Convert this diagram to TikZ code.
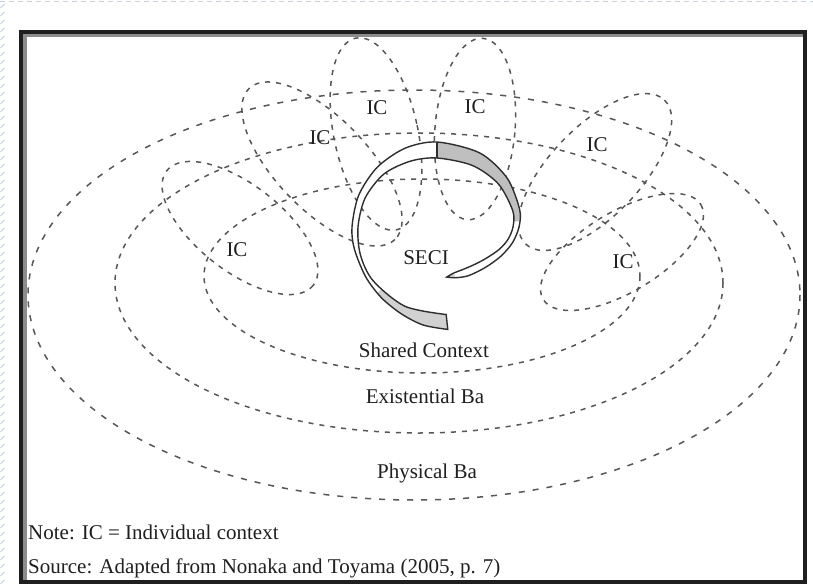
\documentclass[tikz,border=0pt]{standalone}
\usepackage{fontspec}
\setmainfont{Liberation Serif}
\begin{document}
\begin{tikzpicture}[x=1pt,y=-1pt,
  dsh/.style={draw=black!66, line width=1.5pt, dash pattern=on 5pt off 6pt},
  bigdsh/.style={dsh, dash pattern=on 6pt off 8pt},
  lbl/.style={font=\fontsize{21}{25}\selectfont, text=black!88, inner sep=0pt},
  band/.style={draw=black!82, line width=1.4pt},
  bgpat/.style={draw={rgb,255:red,200;green,207;blue,226}, line width=1pt}]
\useasboundingbox (0,0) rectangle (813,588);
\fill[white] (0,0) rectangle (813,588);
% slide background texture
\draw[bgpat, dash pattern=on 5pt off 4pt] (0,2) -- (813,2);
\foreach \yy in {4,12,...,580} \draw[bgpat] (0.5,\yy+4) -- (4.5,\yy);
% frame
\draw[black!88, line width=4pt] (21,32) rectangle (805,582);
\draw[black!45, line width=3pt] (25,35.5) -- (803,35.5);
\draw[black!45, line width=3.5pt] (25,34) -- (25,580);

% Ba ellipses
\draw[bigdsh] (414,295) ellipse [x radius=386, y radius=205];
\draw[dsh] (419,283) ellipse [x radius=304, y radius=150];
\draw[dsh] (422,276) ellipse [x radius=218, y radius=97];

% individual contexts
\draw[dsh, rotate around={-38:(240,228)}] (240,228) ellipse [x radius=93, y radius=43];
\draw[dsh, rotate around={-46:(322,164)}] (322,164) ellipse [x radius=105, y radius=46];
\draw[dsh, rotate around={12:(376,134)}] (376,134) ellipse [x radius=42, y radius=98];
\draw[dsh, rotate around={-5:(475,129)}] (475,129) ellipse [x radius=40, y radius=91];
\draw[dsh, rotate around={46:(595,172)}] (595,172) ellipse [x radius=100, y radius=45];
\draw[dsh, rotate around={31:(622,252)}] (622,252) ellipse [x radius=92, y radius=40];

% SECI spiral band
\begin{scope}[shift={(437,227)}, y=1pt]
  \path[save path=\spiralpath]
    plot[smooth] coordinates {(276:103) (262:99) (248:94) (232:90) (215:87) (195:85.5) (180:85) (158:84.5) (135:84.5) (112:85) (90:85) (60:85.5) (35:85.5) (12:84.5) (0:82) (-12:77) (-25:70) (-40:63) (-57:58) (-70:54) (-79:51)}
    -- plot[smooth] coordinates {(-79:51) (-70:49) (-57:50) (-45:53) (-33:58) (-20:66) (-10:72) (0:76) (12:77.5) (35:75) (60:71) (90:69) (112:71) (135:75) (158:77.5) (180:79) (200:81.5) (220:83.5) (248:85.5) (276:88)}
    -- cycle;
  \fill[white, use path=\spiralpath];
  \begin{scope}
    \clip (0,0) -- (90:130) arc[start angle=90, end angle=4, radius=130] -- cycle;
    \fill[black!25, use path=\spiralpath];
  \end{scope}
  \begin{scope}
    \clip (0,0) -- (228:130) arc[start angle=228, end angle=290, radius=130] -- cycle;
    \fill[black!18, use path=\spiralpath];
  \end{scope}
  \draw[band, use path=\spiralpath];
  \draw[band] (90:69) -- (90:85);
\end{scope}

% labels
\node[lbl] (ica) at (237,250) {IC};
\node[lbl] (icb) at (320,138) {IC};
\node[lbl] (icc) at (377,108) {IC};
\node[lbl] (icd) at (475,107) {IC};
\node[lbl] (ice) at (597,145) {IC};
\node[lbl] (icf) at (623,262) {IC};
\node[lbl] (seci) at (426,258) {SECI};
\node[lbl] (shared) at (424,350) {Shared Context};
\node[lbl] (exist) at (425,396) {Existential Ba};
\node[lbl] (phys) at (427,473) {Physical Ba};
\node[lbl, anchor=west] (note) at (28,532) {Note: IC = Individual context};
\node[lbl, anchor=west] (source) at (28,568) {Source: Adapted from Nonaka and Toyama (2005, p. 7)};
\end{tikzpicture}
\end{document}
